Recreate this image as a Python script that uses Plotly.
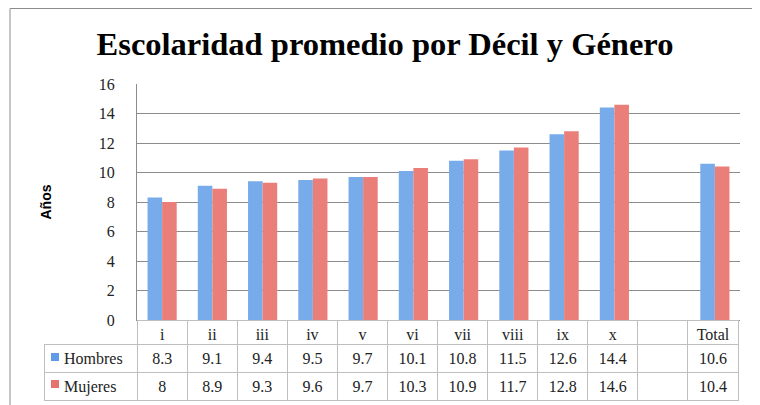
import plotly.graph_objects as go

categories = ["i", "ii", "iii", "iv", "v", "vi", "vii", "viii", "ix", "x", " ", "Total"]
hombres = [8.3, 9.1, 9.4, 9.5, 9.7, 10.1, 10.8, 11.5, 12.6, 14.4, None, 10.6]
mujeres = [8, 8.9, 9.3, 9.6, 9.7, 10.3, 10.9, 11.7, 12.8, 14.6, None, 10.4]
series_names = ["Hombres", "Mujeres"]
y_ticks = [0, 2, 4, 6, 8, 10, 12, 14, 16]

# page is 760x405; the html body has an 8px margin, so the figure starts at (8, 8)
OFF = 8
W, H = 760 - OFF, 405 - OFF
BLUE = "#78abea"
RED = "#ea7e78"
BLUE_KEY = "#5f9be6"
RED_KEY = "#e5736d"
SERIF = "Liberation Serif, DejaVu Serif, serif"

def px_x(p):
    return (p - OFF) / W

def px_y(p):
    return (405 - p) / H

fig = go.Figure()
fig.add_trace(go.Bar(x=categories, y=hombres, name=series_names[0],
                     marker=dict(color=BLUE, line=dict(width=0)), showlegend=False))
fig.add_trace(go.Bar(x=categories, y=mujeres, name=series_names[1],
                     marker=dict(color=RED, line=dict(width=0)), showlegend=False))

def fmt(v):
    if v is None:
        return ""
    return ("%g" % v)

pad = "\u00a0\u00a0\u00a0"
label_col = [pad + series_names[0], pad + series_names[1]]
cols = [label_col] + [[fmt(h), fmt(m)] for h, m in zip(hombres, mujeres)]
ncat = len(categories)

fig.add_trace(go.Table(
    domain=dict(x=[px_x(44), px_x(738)], y=[0, px_y(320)]),
    columnwidth=[93] + [50] * ncat,
    header=dict(values=[""] + categories,
                height=24,
                align="center",
                line=dict(color=["rgba(0,0,0,0)"] + ["#bfbfbf"] * ncat, width=1),
                fill=dict(color=["rgba(0,0,0,0)"] + ["white"] * ncat),
                font=dict(family=SERIF, size=16, color="#222")),
    cells=dict(values=cols,
               height=28,
               align=["left"] + ["center"] * ncat,
               line=dict(color="#bfbfbf", width=1),
               fill=dict(color="white"),
               font=dict(family=SERIF, size=16, color="#222")),
))

fig.update_layout(
    width=W, height=H,
    margin=dict(l=0, r=0, t=0, b=0),
    paper_bgcolor="white", plot_bgcolor="white",
    barmode="group", bargap=0.42, bargroupgap=0,
    title=dict(text="<b>Escolaridad promedio por Décil y Género</b>",
               x=px_x(385), xanchor="center", y=px_y(44), yanchor="middle",
               font=dict(family=SERIF, size=32.5, color="black")),
    xaxis=dict(domain=[px_x(137), px_x(740)], showticklabels=False,
               showline=True, linecolor="#8c8c8c", ticks="",
               showgrid=False, fixedrange=True, automargin=False),
    yaxis=dict(domain=[px_y(320), px_y(84)], range=[0, 16], tickvals=y_ticks,
               showline=True, linecolor="#8c8c8c", showgrid=True,
               gridcolor="#8c8c8c", gridwidth=1, zeroline=False,
               ticks="", ticklabelstandoff=18, automargin=False,
               tickfont=dict(family=SERIF, size=16, color="#222"),
               title=dict(text="<b>Años</b>", standoff=43,
                          font=dict(family="Liberation Sans, Arial, sans-serif", size=14, color="black"))),
    shapes=[
        dict(type="line", xref="paper", yref="paper", x0=px_x(10), x1=1, y0=px_y(8.5), y1=px_y(8.5),
             line=dict(color="#8c8c8c", width=1)),
        dict(type="line", xref="paper", yref="paper", x0=px_x(10), x1=px_x(10), y0=0, y1=px_y(8.5),
             line=dict(color="#8c8c8c", width=1)),
        dict(type="rect", xref="paper", yref="paper", x0=px_x(51), x1=px_x(59), y0=px_y(361), y1=px_y(353),
             fillcolor=BLUE_KEY, line=dict(width=0), layer="above"),
        dict(type="rect", xref="paper", yref="paper", x0=px_x(51), x1=px_x(59), y0=px_y(388), y1=px_y(380),
             fillcolor=RED_KEY, line=dict(width=0), layer="above"),
    ],
)

fig.write_html("out.html")
